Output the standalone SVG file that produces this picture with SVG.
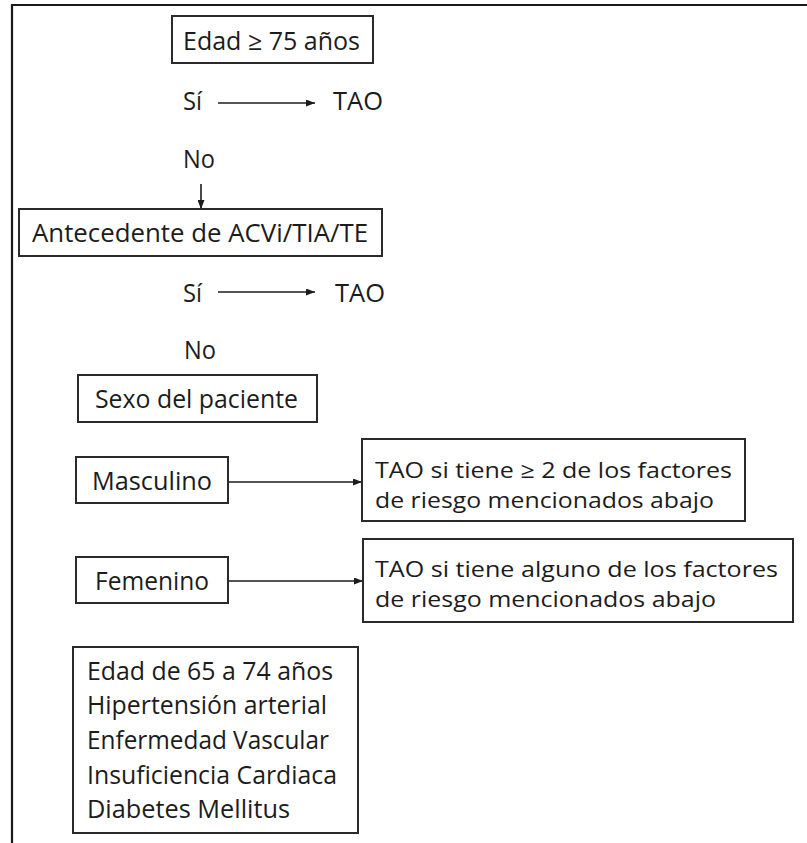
<svg xmlns="http://www.w3.org/2000/svg" width="807" height="843" viewBox="0 0 807 843">
<defs>
<style>
.box{fill:#fff;stroke:#2a2a2a;stroke-width:2}
.t{font-family:"Open Sans","Noto Sans","Liberation Sans",sans-serif;font-size:25px;fill:#1c1c1c}
.t2{font-family:"Open Sans","Noto Sans","Liberation Sans",sans-serif;font-size:22px;fill:#1c1c1c}
.ln{stroke:#1c1c1c;stroke-width:1.6;fill:none}
.frame{stroke:#1a1a1a;stroke-width:2.2;fill:none}
</style>
<marker id="ah" markerUnits="userSpaceOnUse" markerWidth="9" markerHeight="7" refX="9" refY="3.5" orient="auto">
<path d="M0,0 L9,3.5 L0,7 z" fill="#1c1c1c"/>
</marker>
</defs>
<rect width="807" height="843" fill="#fff"/>
<g id="frame">
<path class="frame" d="M807,5 H12 V843"/>
</g>
<g id="connectors">
<line class="ln" x1="218" y1="103" x2="315" y2="103" marker-end="url(#ah)"/>
<line class="ln" x1="201" y1="184" x2="201" y2="209" marker-end="url(#ah)"/>
<line class="ln" x1="218" y1="292" x2="315" y2="292" marker-end="url(#ah)"/>
<line class="ln" x1="228" y1="482" x2="362" y2="482" marker-end="url(#ah)"/>
<line class="ln" x1="228" y1="581" x2="363" y2="581" marker-end="url(#ah)"/>
</g>
<g id="edad75">
<rect class="box" x="172" y="16" width="201" height="47"/>
<text class="t" x="183" y="50" textLength="177" lengthAdjust="spacingAndGlyphs">Edad ≥ 75 años</text>
</g>
<g id="si1">
<text class="t" x="183" y="110" textLength="19" lengthAdjust="spacingAndGlyphs">Sí</text>
</g>
<g id="tao1">
<text class="t" x="333" y="110" textLength="50" lengthAdjust="spacingAndGlyphs">TAO</text>
</g>
<g id="no1">
<text class="t" x="183" y="168" textLength="32" lengthAdjust="spacingAndGlyphs">No</text>
</g>
<g id="antecedente">
<rect class="box" x="19" y="209" width="363" height="47"/>
<text class="t" x="32" y="242" textLength="336" lengthAdjust="spacingAndGlyphs">Antecedente de ACVi/TIA/TE</text>
</g>
<g id="si2">
<text class="t" x="183" y="302" textLength="19" lengthAdjust="spacingAndGlyphs">Sí</text>
</g>
<g id="tao2">
<text class="t" x="335" y="302" textLength="50" lengthAdjust="spacingAndGlyphs">TAO</text>
</g>
<g id="no2">
<text class="t" x="184" y="359" textLength="32" lengthAdjust="spacingAndGlyphs">No</text>
</g>
<g id="sexo">
<rect class="box" x="78" y="375" width="239" height="47"/>
<text class="t" x="95" y="408" textLength="203" lengthAdjust="spacingAndGlyphs">Sexo del paciente</text>
</g>
<g id="masculino">
<rect class="box" x="76" y="457" width="152" height="46"/>
<text class="t" x="92" y="490" textLength="120" lengthAdjust="spacingAndGlyphs">Masculino</text>
</g>
<g id="femenino">
<rect class="box" x="76" y="557" width="152" height="46"/>
<text class="t" x="95" y="590" textLength="114" lengthAdjust="spacingAndGlyphs">Femenino</text>
</g>
<g id="tao-masc">
<rect class="box" x="362" y="439" width="383" height="82"/>
<text class="t2" x="375" y="478" textLength="357" lengthAdjust="spacingAndGlyphs">TAO si tiene ≥ 2 de los factores</text>
<text class="t2" x="375" y="508" textLength="339" lengthAdjust="spacingAndGlyphs">de riesgo mencionados abajo</text>
</g>
<g id="tao-fem">
<rect class="box" x="363" y="539" width="430" height="83"/>
<text class="t2" x="375" y="577" textLength="403" lengthAdjust="spacingAndGlyphs">TAO si tiene alguno de los factores</text>
<text class="t2" x="375" y="607" textLength="341" lengthAdjust="spacingAndGlyphs">de riesgo mencionados abajo</text>
</g>
<g id="factores">
<rect class="box" x="73" y="647" width="285" height="186"/>
<text class="t" x="87" y="680" textLength="246" lengthAdjust="spacingAndGlyphs">Edad de 65 a 74 años</text>
<text class="t" x="87" y="714" textLength="240" lengthAdjust="spacingAndGlyphs">Hipertensión arterial</text>
<text class="t" x="87" y="749" textLength="242" lengthAdjust="spacingAndGlyphs">Enfermedad Vascular</text>
<text class="t" x="87" y="784" textLength="250" lengthAdjust="spacingAndGlyphs">Insuficiencia Cardiaca</text>
<text class="t" x="87" y="818" textLength="203" lengthAdjust="spacingAndGlyphs">Diabetes Mellitus</text>
</g>
</svg>
